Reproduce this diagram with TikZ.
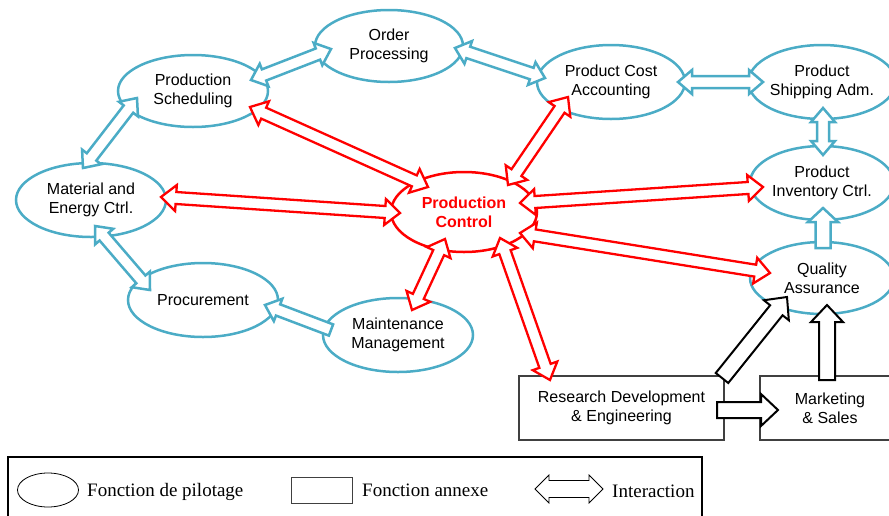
\documentclass[tikz,border=0pt]{standalone}
\usepackage{fontspec}
\setmainfont{Liberation Sans}
\newfontfamily\legendfont{Liberation Serif}
\usetikzlibrary{calc, shapes.geometric}
\definecolor{fnblue}{RGB}{75,172,198}
\newcommand{\nodefont}{\fontsize{16}{19}\selectfont}
% block arrow with a head at both ends: style, from, to, half shaft, half head, head length
\newcommand{\twoway}[6]{%
  \coordinate (t1) at #2; \coordinate (t2) at #3;
  \coordinate (b1) at ($(t1)!#6!(t2)$);
  \coordinate (b2) at ($(t2)!#6!(t1)$);
  \draw[#1] (t1) -- ($(b1)!#5!90:(t2)$) -- ($(b1)!#4!90:(t2)$)
    -- ($(b2)!#4!-90:(t1)$) -- ($(b2)!#5!-90:(t1)$) -- (t2)
    -- ($(b2)!#5!90:(t1)$) -- ($(b2)!#4!90:(t1)$)
    -- ($(b1)!#4!-90:(t2)$) -- ($(b1)!#5!-90:(t2)$) -- cycle;
}
% block arrow with one head, at the second point
\newcommand{\oneway}[6]{%
  \coordinate (t1) at #2; \coordinate (t2) at #3;
  \coordinate (b2) at ($(t2)!#6!(t1)$);
  \draw[#1] ($(t1)!#4!90:(t2)$) -- ($(b2)!#4!-90:(t1)$) -- ($(b2)!#5!-90:(t1)$)
    -- (t2) -- ($(b2)!#5!90:(t1)$) -- ($(b2)!#4!90:(t1)$)
    -- ($(t1)!#4!-90:(t2)$) -- cycle;
}

\begin{document}
\begin{tikzpicture}[x=1pt, y=-1pt,
    pilot/.style={draw=fnblue, line width=2.5pt, ellipse, fill=white, inner sep=0pt,
      minimum width=148pt, minimum height=74pt, font=\nodefont, align=center},
    annexe/.style={draw=black!75, line width=1.2pt, fill=white, minimum height=64pt,
      font=\nodefont, align=center},
    bluearrow/.style={draw=fnblue, line width=2.5pt, fill=white},
    redarrow/.style={draw=red, line width=2.3pt, fill=white},
    blackarrow/.style={draw=black, line width=2pt, fill=white},
    legendtext/.style={anchor=base west, inner sep=0pt, font=\legendfont\fontsize{19}{22}\selectfont}]
  \useasboundingbox (0,0) rectangle (889,515);
  \clip (0,0) rectangle (889,515);
  \node[pilot, minimum height=72pt] (OP) at (389,46) {Order\\Processing};
  \node[pilot, minimum width=150pt, minimum height=72pt] (PS) at (193,91) {Production\\Scheduling};
  \node[pilot, minimum width=150pt] (ME) at (91,200) {Material and\\Energy Ctrl.};
  \node[pilot, minimum width=150pt] (PR) at (203,300) {Procurement};
  \node[pilot, minimum width=150pt] (MM) at (398,335) {Maintenance\\Management};
  \node[pilot, draw=red, minimum width=146pt, minimum height=80pt, font=\nodefont\bfseries,
    text=red] (PC) at (464,212) {Production\\Control};
  \node[pilot] (PCA) at (611,82) {Product Cost\\Accounting};
  \node[pilot, minimum width=144pt] (PSA) at (822,82) {Product\\Shipping Adm.};
  \node[pilot, minimum width=144pt] (PIC) at (822,183) {Product\\Inventory Ctrl.};
  \node[pilot, minimum width=144pt, minimum height=72pt] (QA) at (822,278) {Quality\\Assurance};
  \node[annexe, minimum width=205pt] (RD) at (621.5,408) {Research Development\\\& Engineering};
  \node[annexe, minimum width=140pt] (MS) at (830,408) {Marketing\\\& Sales};
  % interactions between the functions
  \foreach \i/\ix/\iy/\j/\jx/\jy in {PS/58/-11/OP/-58/3, PS/-56/7/ME/-8/-32, ME/4/26/PR/-53/-10,
      OP/66/2/PCA/-66/-4, PCA/67/0/PSA/-59/0, PSA/1/26/PIC/1/-28} {
    \twoway{bluearrow}{($(\i)+(\ix,\iy)$)}{($(\j)+(\jx,\jy)$)}{6pt}{12pt}{14pt}
  }
  \oneway{bluearrow}{($(MM)+(-67,-5)$)}{($(PR)+(62,5)$)}{6pt}{12pt}{14pt}
  \oneway{bluearrow}{($(QA)+(1,-30)$)}{($(PIC)+(1,25)$)}{7.5pt}{15pt}{14pt}
  \foreach \i/\ix/\iy/\j/\jx/\jy in {PC/-36/-25/PS/57/16, ME/70/-3/PC/-64/1, PC/44/-27/PCA/-43/15,
      PC/56/-9/PIC/-59/4, PC/56/21/QA/-52/-5, PC/36/26/RD/-71.5/-28, PC/-19/27/MM/14/-25} {
    \twoway{redarrow}{($(\i)+(\ix,\iy)$)}{($(\j)+(\jx,\jy)$)}{6pt}{13pt}{15pt}
  }
  \foreach \i/\ix/\iy/\j/\jx/\jy in {RD/95.5/2/MS/-52/2, RD/100.5/-30/QA/-35/19, MS/-3/-28/QA/5/27} {
    \oneway{blackarrow}{($(\i)+(\ix,\iy)$)}{($(\j)+(\jx,\jy)$)}{8pt}{16pt}{17pt}
  }
  % legend
  \draw[line width=2.5pt] (8,530) -- (8,457) -- (702,457) -- (702,530);
  \node[draw, ellipse, line width=0.8pt, minimum width=61pt, minimum height=34pt] (lgpilot) at (48,490) {};
  \node[legendtext] (lgpilottext) at (87,496) {Fonction de pilotage};
  \node[draw=black!75, line width=0.8pt, minimum width=61pt, minimum height=26pt] (lgannexe) at (321.5,490) {};
  \node[legendtext] (lgannexetext) at (362,496) {Fonction annexe};
  \coordinate (lgleft) at (535,489);
  \coordinate (lgright) at (603,489);
  \twoway{draw=black, line width=0.8pt, fill=white}{(lgleft)}{(lgright)}{8.5pt}{14pt}{14pt}
  \node[legendtext] (lginteraction) at (612,497) {Interaction};
\end{tikzpicture}
\end{document}
